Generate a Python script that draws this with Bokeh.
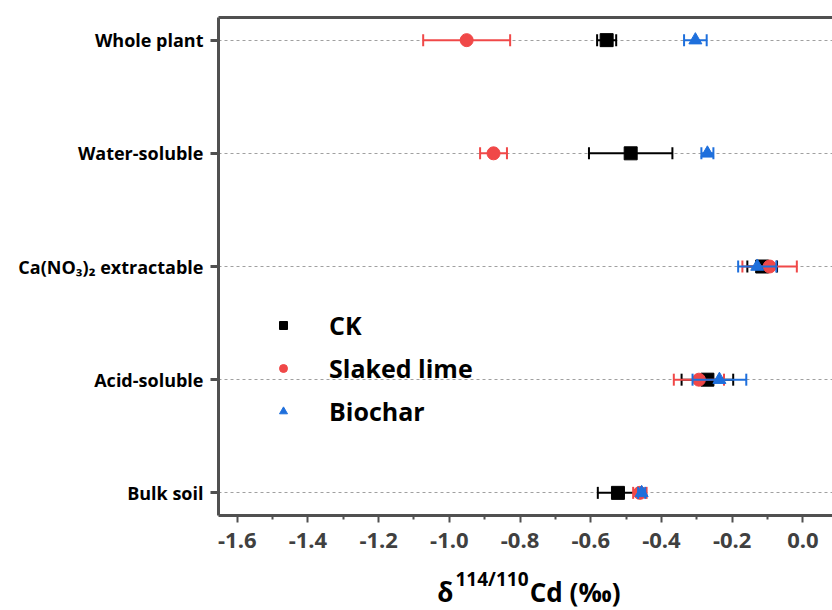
import numpy as np
from bokeh.plotting import figure
from bokeh.layouts import column
from bokeh.models import (ColumnDataSource, FixedTicker, LinearAxis, Legend,
                          LegendItem, Range1d)
from bokeh.core.properties import value
from bokeh.embed import file_html
from bokeh.resources import INLINE

# ---------------- data ----------------
categories = ["Bulk soil", "Acid-soluble", "Ca(NO\u2083)\u2082 extractable",
              "Water-soluble", "Whole plant"]
positions = [1, 2, 3, 4, 5]

ck_mean = [-0.523, -0.270, -0.115, -0.487, -0.555]
ck_err = [0.057, 0.073, 0.042, 0.118, 0.027]

lime_mean = [-0.461, -0.294, -0.094, -0.875, -0.951]
lime_err = [0.019, 0.071, 0.077, 0.038, 0.123]

biochar_mean = [-0.456, -0.236, -0.129, -0.270, -0.304]
biochar_err = [0.010, 0.076, 0.054, 0.017, 0.032]

x_ticks = [-1.6, -1.4, -1.2, -1.0, -0.8, -0.6, -0.4, -0.2, 0.0]
x_tick_labels = ["-1.6", "-1.4", "-1.2", "-1.0", "-0.8", "-0.6", "-0.4", "-0.2", "0.0"]
x_minor_ticks = [-1.5, -1.3, -1.1, -0.9, -0.7, -0.5, -0.3, -0.1]

series_names = ["CK", "Slaked lime", "Biochar"]
colors = ["#000000", "#F04848", "#1E6FDC"]
markers = ["square", "circle", "triangle"]

title_parts = ["\u03b4", "114/110", "Cd (\u2030)"]

FONT = "Open Sans"
AXIS_COLOR = "#505050"
X_START, X_END = -1.653, 0.0839

p = figure(width=832, height=565, output_backend="svg", toolbar_location=None,
           x_range=Range1d(X_START, X_END), y_range=Range1d(0.8, 5.2),
           min_border_left=218, min_border_right=0, min_border_top=17,
           min_border_bottom=50)
p.outline_line_color = None

# grid
p.xgrid.visible = False
p.ygrid.ticker = FixedTicker(ticks=positions)
p.ygrid.grid_line_color = "#a0a0a0"
p.ygrid.grid_line_dash = "3 3"
p.ygrid.grid_line_width = 1

# x axis
xa = p.xaxis[0]
xa.ticker = FixedTicker(ticks=x_ticks, minor_ticks=x_minor_ticks)
xa.major_label_overrides = {t: l for t, l in zip(x_ticks, x_tick_labels)}
xa.axis_line_width = 3
xa.axis_line_color = AXIS_COLOR
xa.major_tick_line_color = AXIS_COLOR
xa.major_tick_line_width = 2
xa.major_tick_in = 0
xa.major_tick_out = 7
xa.minor_tick_line_color = AXIS_COLOR
xa.minor_tick_line_width = 2
xa.minor_tick_in = 0
xa.minor_tick_out = 4
xa.major_label_text_font = FONT
xa.major_label_text_font_style = "bold"
xa.major_label_text_font_size = "22px"
xa.major_label_text_color = "#404040"
xa.major_label_standoff = 10

# y axis
ya = p.yaxis[0]
ya.ticker = FixedTicker(ticks=positions)
ya.major_label_overrides = {pos: c for pos, c in zip(positions, categories)}
ya.axis_line_width = 3
ya.axis_line_color = AXIS_COLOR
ya.major_tick_line_color = AXIS_COLOR
ya.major_tick_line_width = 3
ya.major_tick_in = 0
ya.major_tick_out = 8
ya.minor_tick_line_color = None
ya.major_label_text_font = FONT
ya.major_label_text_font_style = "bold"
ya.major_label_text_font_size = "18px"
ya.major_label_text_color = "#000000"
ya.major_label_standoff = 7

# top border line
top = LinearAxis(ticker=FixedTicker(ticks=[]), axis_line_width=3,
                 axis_line_color=AXIS_COLOR, major_tick_out=0, major_tick_in=0,
                 minor_tick_out=0, minor_tick_in=0,
                 major_label_text_font_size="0px", major_label_standoff=0)
p.add_layout(top, "above")

# series
means = [ck_mean, lime_mean, biochar_mean]
errs = [ck_err, lime_err, biochar_err]
legend_items = []
for name, col, mk, m, e in zip(series_names, colors, markers, means, errs):
    m = np.array(m)
    e = np.array(e)
    src = ColumnDataSource(dict(y=positions, x=m, lower=m - e, upper=m + e))
    p.segment(x0="lower", y0="y", x1="upper", y1="y", source=src,
              line_color=col, line_width=2)
    p.scatter(x="lower", y="y", source=src, marker="dash", angle=np.pi / 2,
              size=12, line_color=col, line_width=2)
    p.scatter(x="upper", y="y", source=src, marker="dash", angle=np.pi / 2,
              size=12, line_color=col, line_width=2)
    r = p.scatter(x="x", y="y", source=src, marker=mk, size=13,
                  fill_color=col, line_color=col)
    legend_items.append(LegendItem(label=name, renderers=[r]))

legend = Legend(items=legend_items, location=(50, 87))
legend.border_line_color = None
legend.background_fill_alpha = 0
legend.label_text_font = FONT
legend.label_text_font_style = "bold"
legend.label_text_font_size = "25px"
legend.label_text_color = "#000000"
legend.spacing = 9
legend.glyph_width = 30
legend.label_standoff = 31
p.add_layout(legend, "center")

# ---------- x axis title strip (with superscript) ----------
p2 = figure(width=832, height=45, output_backend="svg", toolbar_location=None,
            title=None, x_range=p.x_range, y_range=Range1d(0, 45),
            min_border_left=218, min_border_right=0, min_border_top=0,
            min_border_bottom=0)
p2.axis.visible = False
p2.grid.visible = False
p2.outline_line_color = None

title_src = ColumnDataSource(dict(
    x=[-1.0343, -0.9826, -0.7724],
    y=[19.0, 32.0, 19.0],
    text=title_parts,
    size=["26px", "19px", "26px"],
))
p2.text(x="x", y="y", text="text", source=title_src, text_font=value(FONT),
        text_font_style="bold", text_font_size="size", text_color="#000000",
        text_baseline="alphabetic", text_align="left")

layout = column(p, p2, spacing=0)
open("out.html", "w").write(file_html(layout, INLINE))
